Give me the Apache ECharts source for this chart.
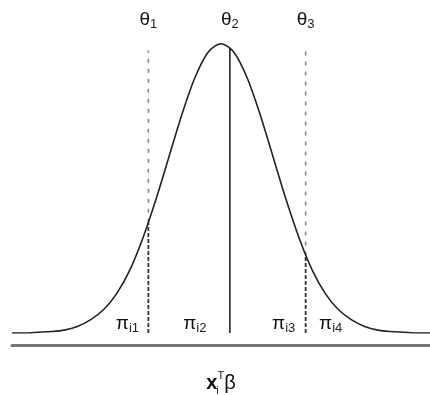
<!DOCTYPE html>
<html>
<head>
    <meta charset="utf-8">
    <title>Ordinal thresholds</title>
    <script src="https://cdn.jsdelivr.net/npm/echarts@6.0.0/dist/echarts.min.js"></script>
    <style>
        html, body { margin: 0; padding: 0; background: #fff; }
    </style>
</head>
<body>
    <div id="chart" style="width: 430px; height: 395px;"></div>

    <script>
        // 曲线采样点 (x 轴位置, 读出的高度)
        var xVals = [-4, -3.75, -3.5, -3.25, -3, -2.75, -2.5, -2.25, -2, -1.75, -1.5, -1.25, -1, -0.75, -0.5, -0.25,
            0, 0.25, 0.5, 0.75, 1, 1.25, 1.5, 1.75, 2, 2.25, 2.5, 2.75, 3, 3.25, 3.5, 3.75, 4];
        var density = [0.000, 0.000, 0.001, 0.002, 0.004, 0.009, 0.018, 0.032, 0.054, 0.086, 0.130, 0.183, 0.242, 0.301, 0.352, 0.387,
            0.399, 0.387, 0.352, 0.301, 0.242, 0.183, 0.130, 0.086, 0.054, 0.032, 0.018, 0.009, 0.004, 0.002, 0.001, 0.000, 0.000];

        // 阈值位置及曲线在该处的高度
        var thresholds = [-1.39, 0.17, 1.62];
        var thresholdHeights = [0.152, 0.393, 0.107];
        var dashTop = 0.39;
        var thetaSubs = ['1', '2', '3'];

        // π 标签
        var piSubs = ['i1', 'i2', 'i3', 'i4'];
        var piX = [-1.79, -0.50, 1.20, 2.10];
        var piY = 0.013;
        var thetaY = 0.432;

        var chart = echarts.init(document.getElementById('chart'));

        var series = [];

        // 密度曲线
        series.push({
            type: 'line',
            data: xVals.map(function (x, i) { return [x, density[i]]; }),
            smooth: 0.3,
            showSymbol: false,
            silent: true,
            lineStyle: { color: '#222', width: 1.6 },
            z: 3
        });

        // 阈值竖线
        thresholds.forEach(function (t, i) {
            var solid = i === 1;
            series.push({
                type: 'line',
                data: [[t, 0], [t, thresholdHeights[i]]],
                showSymbol: false,
                silent: true,
                lineStyle: solid ? { color: '#222', width: 1.6 } : { color: '#333', width: 1.8, type: [4, 2] },
                z: 2
            });
            if (!solid) {
                series.push({
                    type: 'line',
                    data: [[t, thresholdHeights[i]], [t, dashTop]],
                    showSymbol: false,
                    silent: true,
                    lineStyle: { color: '#888', width: 1.6, type: [4, 6] },
                    z: 2
                });
            }
        });

        var font = 'Liberation Sans';
        var textRich = {
            m: { fontFamily: font, fontSize: 19, color: '#111', verticalAlign: 'middle', lineHeight: 22 },
            s: { fontFamily: font, fontSize: 13, color: '#222', verticalAlign: 'bottom', lineHeight: 14 }
        };

        function labelOpt(symbol) {
            return {
                show: true,
                position: 'inside',
                color: '#111',
                opacity: 1,
                textBorderWidth: 0,
                fontFamily: font,
                formatter: function (p) { return '{m|' + symbol + '}{s|' + p.data[2] + '}'; },
                rich: textRich
            };
        }

        // θ 标签
        series.push({
            type: 'scatter',
            symbolSize: 0,
            silent: true,
            itemStyle: { opacity: 1 },
            data: thresholds.map(function (t, i) { return [t, thetaY, thetaSubs[i]]; }),
            label: labelOpt('θ')
        });

        // π 标签
        series.push({
            type: 'scatter',
            symbolSize: 0,
            silent: true,
            itemStyle: { opacity: 1 },
            data: piX.map(function (x, i) { return [x, piY, piSubs[i]]; }),
            label: labelOpt('π')
        });

        chart.setOption({
            animation: false,
            grid: { left: 12, right: 0, top: 14, bottom: 62, outerBoundsMode: 'none' },
            xAxis: {
                type: 'value',
                min: -4,
                max: 4,
                offset: 12,
                axisLine: { show: true, onZero: false, lineStyle: { color: '#777', width: 3 } },
                axisTick: { show: false },
                axisLabel: { show: false },
                splitLine: { show: false },
                name: '{x|x}{i|i}{t|T}{b|β}',
                nameLocation: 'middle',
                nameGap: 25,
                nameTextStyle: {
                    color: '#222',
                    fontFamily: font,
                    rich: {
                        x: { fontFamily: font, fontSize: 20, fontWeight: 'bold', color: '#111', lineHeight: 26, verticalAlign: 'middle' },
                        i: { fontFamily: font, fontSize: 11, color: '#222', width: 0, verticalAlign: 'bottom', lineHeight: 12 },
                        t: { fontFamily: font, fontSize: 11, color: '#222', verticalAlign: 'top', lineHeight: 12 },
                        b: { fontFamily: font, fontSize: 20, color: '#111', lineHeight: 26, verticalAlign: 'middle' }
                    }
                }
            },
            yAxis: {
                type: 'value',
                min: 0,
                max: 0.44,
                show: false
            },
            series: series
        });
    </script>
</body>
</html>
